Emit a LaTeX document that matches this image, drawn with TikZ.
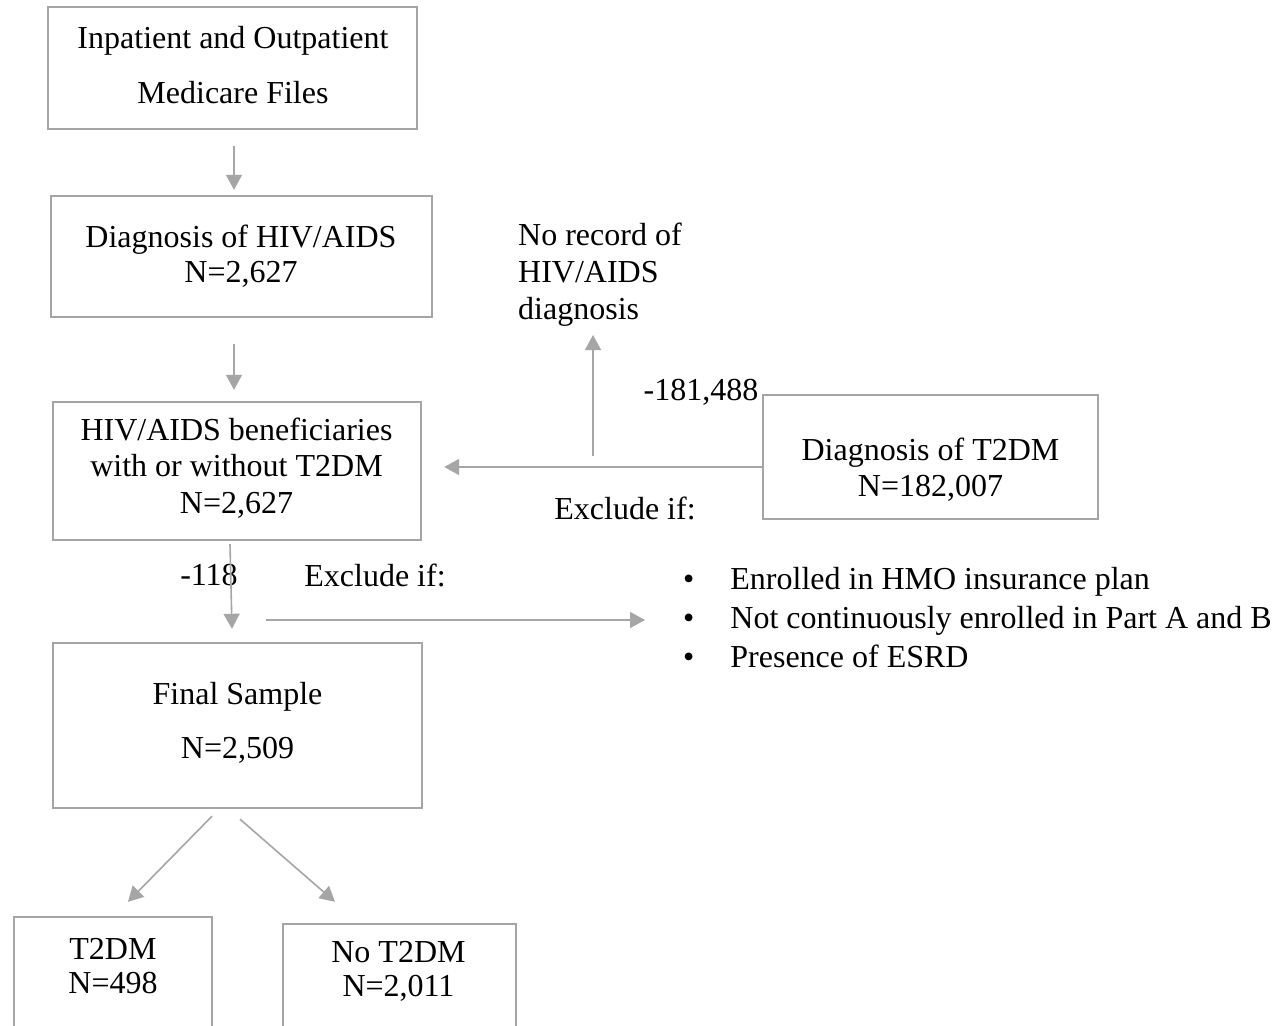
\documentclass[tikz,border=0pt]{standalone}
\usepackage{fontspec}
\setmainfont{Liberation Serif}
\usetikzlibrary{arrows.meta,calc}
\definecolor{boxgray}{HTML}{A5A5A5}
\definecolor{linegray}{HTML}{A6A6A6}
\begin{document}
\begin{tikzpicture}[x=1pt,y=-1pt,
  box/.style={draw=boxgray, line width=2.4pt, rectangle, inner sep=0pt},
  txt/.style={font=\fontsize{32}{36.5}\selectfont, align=center, inner sep=0pt},
  conn/.style={draw=linegray, line width=1.6pt, -{Triangle[width=16pt,length=15pt]}},
  plain/.style={draw=linegray, line width=1.6pt}]
\useasboundingbox (0,0) rectangle (1278,1026);
\clip (0,0) rectangle (1278,1026);
\fill[white] (0,0) rectangle (1278,1026);

% boxes
\node[box, minimum width=369, minimum height=122] (b1) at (232.5,68) {};
\node[box, minimum width=381, minimum height=121] (b2) at (241.5,256.5) {};
\node[box, minimum width=368, minimum height=138] (b3) at (237,471) {};
\node[box, minimum width=335, minimum height=124] (b4) at (930.5,457) {};
\node[box, minimum width=369, minimum height=165] (b5) at (237.5,725.5) {};
\node[box, minimum width=198, minimum height=143] (b6) at (113,988.5) {};
\node[box, minimum width=233, minimum height=136] (b7) at (399.5,992) {};

% box texts
\node[txt, font=\fontsize{32}{55}\selectfont] (t1) at (233,65.5) {Inpatient and Outpatient\\Medicare Files};
\node[txt, font=\fontsize{32}{35}\selectfont] (t2) at (241,256.5) {Diagnosis of HIV/AIDS\\N=2,627};
\node[txt] (t3) at (236.5,468) {HIV/AIDS beneficiaries\\with or without T2DM\\N=2,627};
\node[txt, font=\fontsize{32}{36}\selectfont] (t4) at (930.5,470) {Diagnosis of T2DM\\N=182,007};
\node[txt, font=\fontsize{32}{54}\selectfont] (t5) at (237.5,723) {Final Sample\\N=2,509};
\node[txt, font=\fontsize{32}{34}\selectfont] (t6) at (113,966.5) {T2DM\\N=498};
\node[txt, font=\fontsize{32}{34}\selectfont] (t7) at (398.5,971.5) {No T2DM\\N=2,011};

% free labels
\node[txt, align=left, anchor=west, font=\fontsize{32}{37}\selectfont] (norec) at (518,275) {No record of\\HIV/AIDS\\diagnosis};
\node[txt] (n181) at (701,392) {-181,488};
\node[txt] (excl1) at (625,508) {Exclude if:};
\node[txt] (n118) at (209,575) {-118};
\node[txt] (excl2) at (375,575) {Exclude if:};
\node[txt, anchor=west, font=\fontsize{32}{39}\selectfont] (list) at (683,621)
  {\begin{tabular}{@{}l@{\hspace{36pt}}l@{}}
   \textbullet & Enrolled in HMO insurance plan\\
   \textbullet & Not continuously enrolled in Part A and B\\
   \textbullet & Presence of ESRD
   \end{tabular}};

% coordinates for free ends
\coordinate (j) at (593,456);
\coordinate (jt) at (593,335);
\coordinate (h1) at (266,620);
\coordinate (h2) at (645,620);

% connectors
\draw[conn] ($(b1.south)+(1.5,16)$) -- ($(b2.north)+(-7.5,-5)$);
\draw[conn] ($(b2.south)+(-7.5,26)$) -- ($(b3.north)+(-3,-11)$);
\draw[conn] ($(b4.west)+(0,10)$) -- ($(b3.east)+(22,-4)$);
\draw[conn] (j) -- (jt);
\draw[conn] ($(b3.south)+(-7,3)$) -- ($(b5.north)+(-5.5,-13)$);
\draw[conn] (h1) -- (h2);
\draw[conn] ($(b5.south)+(-25.5,7)$) -- ($(b6.north)+(15,-14)$);
\draw[conn] ($(b5.south)+(2.5,10)$) -- ($(b7.north)+(-64.5,-21)$);
\end{tikzpicture}
\end{document}
